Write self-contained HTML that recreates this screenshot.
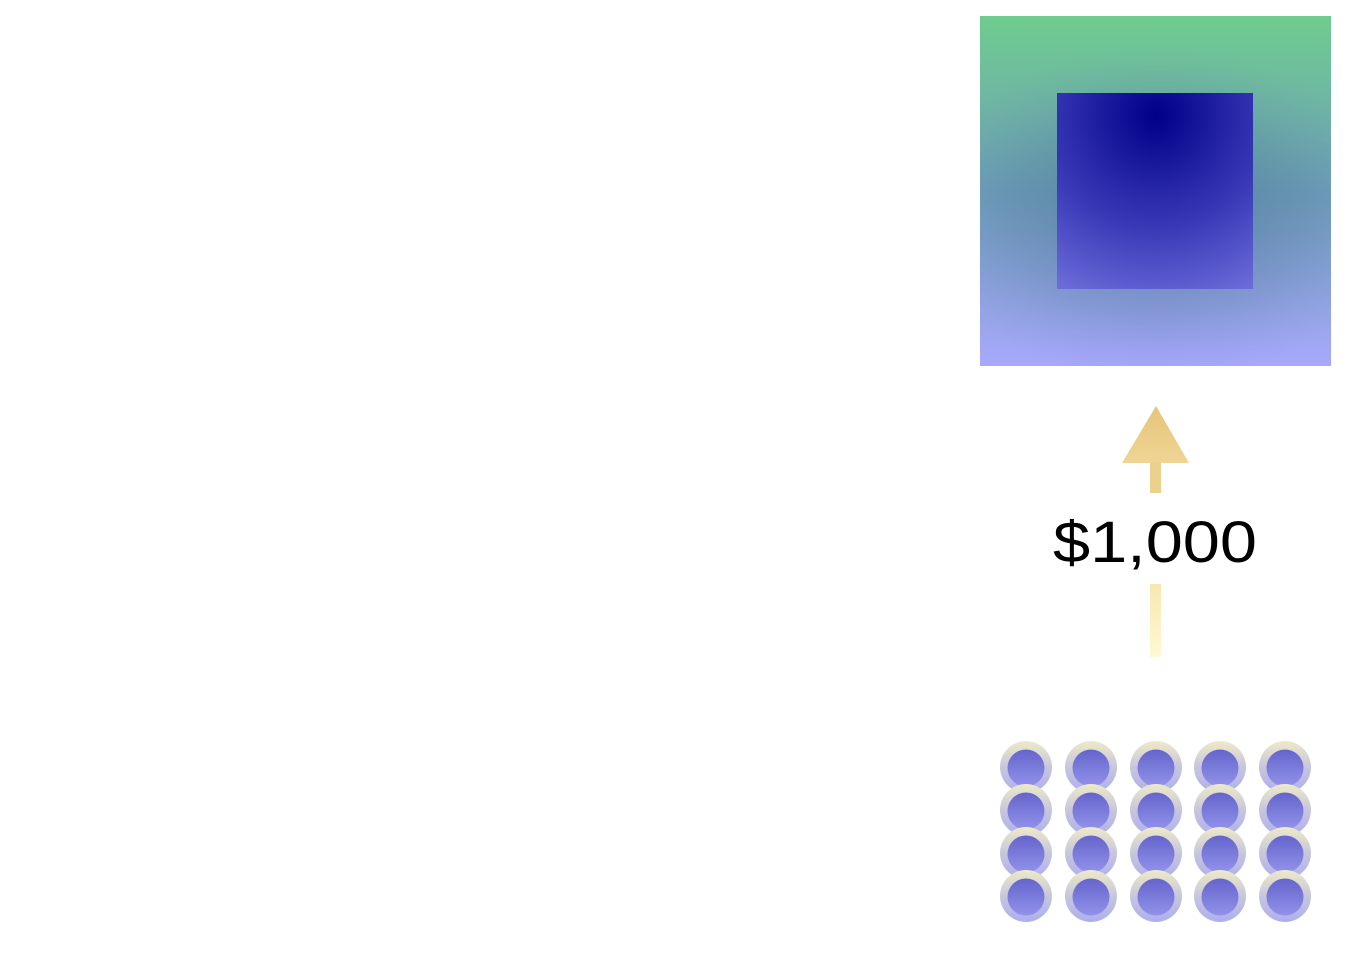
<!DOCTYPE html>
<html><head><meta charset="utf-8"><style>
html,body{margin:0;padding:0;background:#fff;}
svg{display:block;}
</style></head><body>
<svg width="1352" height="969" viewBox="0 0 1352 969" xmlns="http://www.w3.org/2000/svg">
<defs>
<linearGradient id="og" x1="0" y1="0" x2="0" y2="1">
<stop offset="0" stop-color="#6fcc8f"/>
<stop offset="0.5" stop-color="#6ea0b8"/>
<stop offset="1" stop-color="#a8a8fc"/>
</linearGradient>
<radialGradient id="ov" cx="1156" cy="215" r="240" gradientUnits="userSpaceOnUse" gradientTransform="translate(1156 215) scale(1 0.7) translate(-1156 -215)">
<stop offset="0" stop-color="#1a4a6a" stop-opacity="0.4"/>
<stop offset="0.6" stop-color="#3a5a8a" stop-opacity="0.18"/>
<stop offset="1" stop-color="#6070c0" stop-opacity="0"/>
</radialGradient>
<radialGradient id="ig" cx="1156" cy="115" r="230" gradientUnits="userSpaceOnUse">
<stop offset="0" stop-color="#000088"/>
<stop offset="0.5" stop-color="#3a3ab8"/>
<stop offset="1" stop-color="#8080e6"/>
</radialGradient>
<linearGradient id="ag" x1="0" y1="0" x2="0" y2="1">
<stop offset="0" stop-color="#e6c47a"/>
<stop offset="1" stop-color="#efd594"/>
</linearGradient>
<linearGradient id="sg" x1="0" y1="0" x2="0" y2="1">
<stop offset="0" stop-color="#f7e8b0"/>
<stop offset="1" stop-color="#fff8d4"/>
</linearGradient>
<linearGradient id="cr" x1="0" y1="0" x2="0" y2="1">
<stop offset="0" stop-color="#eeeac8"/>
<stop offset="0.5" stop-color="#c8c6dc"/>
<stop offset="1" stop-color="#aeaef0"/>
</linearGradient>
<linearGradient id="ci" x1="0" y1="0" x2="0" y2="1">
<stop offset="0" stop-color="#6464cc"/>
<stop offset="1" stop-color="#9292ea"/>
</linearGradient>
<g id="coin"><circle r="26" fill="url(#cr)"/><circle cy="1" r="18.5" fill="url(#ci)"/></g>
</defs>
<rect x="980" y="16" width="351" height="350" fill="url(#og)"/>
<rect x="980" y="16" width="351" height="350" fill="url(#ov)"/>
<rect x="1057" y="93" width="196" height="196" fill="url(#ig)"/>
<polygon points="1156,406 1189,463 1122,463" fill="url(#ag)"/>
<rect x="1150" y="462" width="11" height="31" fill="#ecd08e"/>
<rect x="1150" y="584" width="11" height="73" fill="url(#sg)"/>
<text x="1053" y="562" textLength="204" lengthAdjust="spacingAndGlyphs" font-family="Liberation Sans, sans-serif" font-size="58" fill="#000">$1,000</text>
<g>
<use href="#coin" x="1026" y="767"/><use href="#coin" x="1091" y="767"/><use href="#coin" x="1156" y="767"/><use href="#coin" x="1220" y="767"/><use href="#coin" x="1285" y="767"/>
<use href="#coin" x="1026" y="810"/><use href="#coin" x="1091" y="810"/><use href="#coin" x="1156" y="810"/><use href="#coin" x="1220" y="810"/><use href="#coin" x="1285" y="810"/>
<use href="#coin" x="1026" y="853"/><use href="#coin" x="1091" y="853"/><use href="#coin" x="1156" y="853"/><use href="#coin" x="1220" y="853"/><use href="#coin" x="1285" y="853"/>
<use href="#coin" x="1026" y="896"/><use href="#coin" x="1091" y="896"/><use href="#coin" x="1156" y="896"/><use href="#coin" x="1220" y="896"/><use href="#coin" x="1285" y="896"/>
</g>
</svg>
</body></html>
